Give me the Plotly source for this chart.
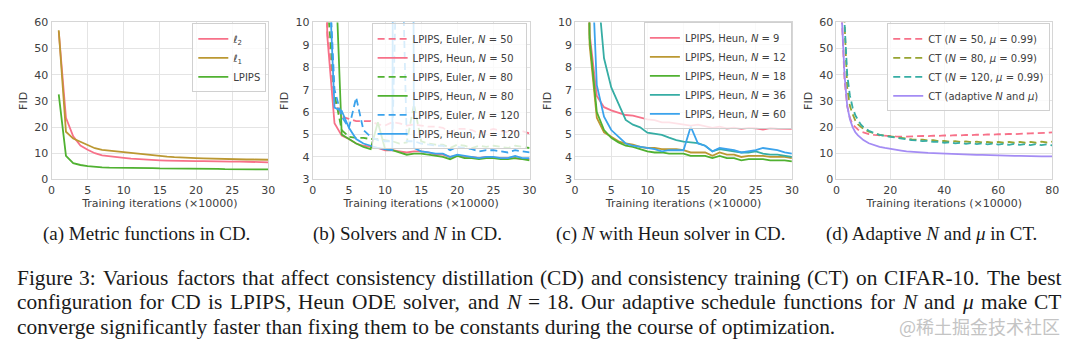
import plotly.graph_objects as go

W, H = 1080, 354

# ---------------- data ----------------
x_cd = list(range(1, 31))

# (a) metric functions
a_l2 = [56.5, 23.5, 16.5, 12.9, 11.3, 10.0, 9.2, 8.8, 8.5, 8.2, 7.9, 7.7, 7.6, 7.5, 7.3,
        7.2, 7.1, 7.1, 7.0, 7.0, 7.0, 6.9, 6.9, 6.8, 6.8, 6.8, 6.8, 6.7, 6.6, 6.5]
a_l1 = [57.0, 18.2, 15.6, 14.4, 13.1, 11.9, 11.3, 11.0, 10.7, 10.4, 10.2, 9.8, 9.4, 9.1, 8.9,
        8.7, 8.5, 8.3, 8.1, 8.1, 8.0, 7.9, 7.8, 7.8, 7.7, 7.7, 7.6, 7.6, 7.5, 7.5]
a_lpips = [32.5, 9.0, 6.2, 5.5, 5.1, 4.8, 4.6, 4.5, 4.5, 4.4, 4.4, 4.3, 4.3, 4.3, 4.2,
           4.2, 4.2, 4.1, 4.1, 4.1, 4.0, 4.0, 4.0, 3.9, 3.9, 3.9, 3.9, 3.9, 3.8, 3.8]

# (b) solvers and N
b_euler50 = [40, 9.6, 6.5, 5.8, 5.7, 5.6, 5.6, 5.6, 5.45, 5.4, 5.55, 5.5, 5.4, 5.45, 5.4,
             5.35, 5.35, 5.3, 5.1, 5.25, 5.25, 5.2, 5.05, 5.15, 5.25, 5.15, 5.1, 5.15, 5.15, 5.05]
b_heun50 = [40, 9.4, 5.5, 4.95, 4.8, 4.6, 4.5, 4.45, 4.4, 4.3, 4.3, 4.25, 4.2, 4.25, 4.25,
            4.2, 4.1, 4.1, 4.0, 4.05, 4.0, 4.0, 3.95, 4.0, 3.95, 3.95, 3.95, 3.95, 3.9, 3.9]
b_euler80 = [40, 11.0, 6.8, 5.2, 4.9, 4.85, 4.85, 4.8, 4.8, 4.75, 4.7, 4.6, 4.65, 6.35, 4.7,
             4.6, 4.55, 4.55, 4.4, 4.55, 4.5, 4.4, 4.5, 4.45, 4.5, 4.45, 4.4, 4.5, 4.45, 4.4]
b_heun80 = [40, 10.3, 13.5, 5.0, 4.8, 4.6, 4.45, 4.35, 5.55, 4.35, 4.3, 4.2, 4.1, 4.15, 4.15,
            4.1, 4.05, 4.0, 3.9, 4.05, 3.95, 3.95, 3.9, 3.95, 3.95, 3.9, 3.9, 3.95, 3.9, 3.85]
b_euler120 = [40, 14.0, 7.0, 5.8, 5.3, 6.65, 5.2, 4.9, 4.75, 4.7, 4.7, 18.0, 4.7, 4.7, 4.6,
              4.55, 4.5, 4.5, 4.3, 4.45, 4.4, 4.35, 4.25, 4.3, 4.3, 4.25, 4.2, 4.3, 4.25, 4.2]
b_heun120 = [40, 14.0, 6.2, 6.05, 5.3, 4.8, 4.6, 4.5, 4.4, 4.35, 4.3, 100, 100, 4.4, 4.25,
             4.2, 4.15, 4.15, 4.0, 4.1, 4.05, 4.0, 3.95, 4.0, 4.0, 3.95, 3.95, 4.05, 3.95, 3.95]

# (c) N with Heun solver
c_n9 = [40, 9.5, 6.72, 6.22, 6.08, 5.97, 5.87, 5.84, 5.75, 5.68, 5.64, 5.54, 5.54, 5.5, 5.44,
        5.4, 5.44, 5.37, 5.3, 5.35, 5.27, 5.31, 5.25, 5.3, 5.28, 5.22, 5.29, 5.26, 5.25, 5.25]
c_n12 = [40, 9.0, 5.75, 5.1, 4.9, 4.7, 4.6, 4.55, 4.45, 4.4, 4.4, 4.35, 4.35, 4.35, 4.3,
         4.2, 4.2, 4.2, 4.05, 4.2, 4.1, 4.1, 4.0, 4.05, 4.05, 4.05, 4.0, 4.0, 4.0, 3.95]
c_n18 = [40, 9.3, 6.0, 5.2, 4.85, 4.65, 4.5, 4.45, 4.35, 4.25, 4.2, 4.2, 4.15, 4.15, 4.15,
         4.05, 4.05, 4.05, 3.95, 4.05, 3.95, 3.95, 3.85, 3.9, 3.9, 3.9, 3.85, 3.85, 3.85, 3.8]
c_n36 = [40, 30, 12.0, 8.4, 7.1, 6.4, 5.65, 5.44, 5.32, 5.08, 5.04, 4.98, 4.86, 4.75, 4.68,
         4.64, 4.62, 4.5, 4.25, 4.35, 4.3, 4.25, 4.2, 4.2, 4.25, 4.15, 4.1, 4.1, 4.05, 4.0]
c_n60 = [40, 15.0, 7.2, 5.8, 5.2, 4.9, 4.6, 4.5, 4.45, 4.4, 4.35, 4.25, 4.3, 4.3, 4.3,
         5.35, 4.6, 4.5, 4.25, 4.4, 4.35, 4.3, 4.2, 4.25, 4.3, 4.4, 4.35, 4.3, 4.2, 4.15]

# (d) adaptive N and mu in CT
x_ct = [2, 3, 4, 5, 6, 7, 8, 9, 10, 12, 14, 16, 18, 20, 22, 24, 26, 28, 30, 32, 34, 36, 38,
        40, 42, 44, 46, 48, 50, 52, 54, 56, 58, 60, 62, 64, 66, 68, 70, 72, 74, 76, 78, 80]
d_n50 = [62, 38, 28, 23.5, 21, 19.8, 19, 18.3, 18, 17.3, 17, 16.8, 16.7, 16.5, 16.4, 16.3,
         16.4, 16.5, 16.4, 16.6, 16.5, 16.7, 16.6, 16.8, 16.7, 16.9, 16.8, 17.0, 16.9, 17.1,
         17.0, 17.2, 17.1, 17.3, 17.2, 17.4, 17.3, 17.5, 17.5, 17.6, 17.6, 17.8, 17.8, 18.0]
d_n80 = [75, 60, 35, 28, 25, 22.5, 21, 20, 19.3, 18.2, 17.5, 17, 16.7, 16.4, 16.0, 15.8,
         15.6, 15.3, 15.2, 15.2, 14.9, 15.0, 14.6, 14.7, 14.4, 14.6, 14.3, 14.5, 14.2, 14.4,
         14.1, 14.3, 14.0, 14.3, 14.0, 14.3, 14.0, 14.3, 14.0, 14.3, 14.0, 14.4, 14.1, 14.4]
d_n120 = [80, 62, 40, 32, 27.5, 24.5, 22.5, 21, 20, 18.6, 17.7, 17, 16.6, 16.3, 15.8, 15.6,
          15.3, 15.0, 14.9, 14.6, 14.7, 14.3, 14.4, 14.0, 14.2, 13.8, 14.0, 13.6, 13.9, 13.5,
          13.8, 13.4, 13.7, 13.3, 13.6, 13.2, 13.6, 13.2, 13.5, 13.1, 13.5, 13.1, 13.4, 13.0]
d_adapt = [62, 40, 28, 23, 20, 18, 16.8, 15.8, 15.0, 13.8, 13.0, 12.4, 12.0, 11.6, 11.3, 11.0,
           10.7, 10.5, 10.3, 10.2, 10.1, 10.0, 9.9, 9.8, 9.8, 9.7, 9.6, 9.6, 9.5, 9.4,
           9.4, 9.3, 9.3, 9.2, 9.1, 9.1, 9.0, 9.0, 8.9, 8.9, 8.9, 8.8, 8.8, 8.8]

x_ticks_cd = [0, 5, 10, 15, 20, 25, 30]
x_ticks_ct = [0, 20, 40, 60, 80]
y_ticks_big = [0, 10, 20, 30, 40, 50, 60]
y_ticks_small = [3, 4, 5, 6, 7, 8, 9, 10]

subcaptions = ["(a) Metric functions in CD.",
               "(b) Solvers and <i>N</i> in CD.",
               "(c) <i>N</i> with Heun solver in CD.",
               "(d) Adaptive <i>N</i> and <i>μ</i> in CT."]

caption_line1 = "Figure 3: Various factors that affect consistency distillation (CD) and consistency training (CT) on CIFAR-10. The best"
caption_line2 = "configuration for CD is LPIPS, Heun ODE solver, and <i>N</i> = 18. Our adaptive schedule functions for <i>N</i> and <i>μ</i> make CT"
caption_line3 = "converge significantly faster than fixing them to be constants during the course of optimization."
watermark = "@稀土掘金技术社区"

# ---------------- style ----------------
PINK, GOLD, GREEN, TEAL, BLUE = "#f77189", "#bb9832", "#50b131", "#36ada4", "#3ba3ec"
OLIVE, TEAL4, PURPLE = "#97a431", "#36ada4", "#a48cf4"
DASH = "7px,4px"
LW = 1.8
FONT = "DejaVu Sans"
TXT = "#404040"
GRID = "#e4e4e4"
FRAME = "#d6d6d6"

fig = go.Figure()

def add(x, y, name, color, ax, legend, dash="solid"):
    fig.add_trace(go.Scatter(
        x=x, y=y, name=name, mode="lines",
        line=dict(color=color, width=LW, dash=dash),
        xaxis="x" + ("" if ax == 1 else str(ax)),
        yaxis="y" + ("" if ax == 1 else str(ax)),
        legend="legend" + ("" if legend == 1 else str(legend)),
    ))

add(x_cd, a_l2, "<i>ℓ</i><sub>2</sub>", PINK, 1, 1)
add(x_cd, a_l1, "<i>ℓ</i><sub>1</sub>", GOLD, 1, 1)
add(x_cd, a_lpips, "LPIPS", GREEN, 1, 1)

add(x_cd, b_euler50, "LPIPS, Euler, <i>N</i> = 50", PINK, 2, 2, DASH)
add(x_cd, b_heun50, "LPIPS, Heun, <i>N</i> = 50", PINK, 2, 2)
add(x_cd, b_euler80, "LPIPS, Euler, <i>N</i> = 80", GREEN, 2, 2, DASH)
add(x_cd, b_heun80, "LPIPS, Heun, <i>N</i> = 80", GREEN, 2, 2)
add(x_cd, b_euler120, "LPIPS, Euler, <i>N</i> = 120", BLUE, 2, 2, DASH)
add(x_cd, b_heun120, "LPIPS, Heun, <i>N</i> = 120", BLUE, 2, 2)

add(x_cd, c_n9, "LPIPS, Heun, <i>N</i> = 9", PINK, 3, 3)
add(x_cd, c_n12, "LPIPS, Heun, <i>N</i> = 12", GOLD, 3, 3)
add(x_cd, c_n18, "LPIPS, Heun, <i>N</i> = 18", GREEN, 3, 3)
add(x_cd, c_n36, "LPIPS, Heun, <i>N</i> = 36", TEAL, 3, 3)
add(x_cd, c_n60, "LPIPS, Heun, <i>N</i> = 60", BLUE, 3, 3)

add(x_ct, d_n50, "CT (<i>N</i> = 50, <i>μ</i> = 0.99)", PINK, 4, 4, DASH)
add(x_ct, d_n80, "CT (<i>N</i> = 80, <i>μ</i> = 0.99)", OLIVE, 4, 4, DASH)
add(x_ct, d_n120, "CT (<i>N</i> = 120, <i>μ</i> = 0.99)", TEAL4, 4, 4, DASH)
add(x_ct, d_adapt, "CT (adaptive <i>N</i> and <i>μ</i>)", PURPLE, 4, 4)

# panel geometry in pixels: (left, right)
panels = [(48, 267), (312, 531), (577, 796), (841, 1059)]
top_px, bot_px = 17, 180
xranges = [[0, 30], [0, 30], [0, 30], [0, 80]]
yranges = [[0, 60], [3, 10], [3, 10], [0, 60]]
xt = [x_ticks_cd, x_ticks_cd, x_ticks_cd, x_ticks_ct]
yt = [y_ticks_big, y_ticks_small, y_ticks_small, y_ticks_big]

layout = dict(
    width=W, height=H, margin=dict(l=0, r=0, t=0, b=0),
    paper_bgcolor="white", plot_bgcolor="white",
    font=dict(family=FONT, size=11, color=TXT),
)
tickfont = dict(family=FONT, size=11, color=TXT)
for i, (l, r) in enumerate(panels):
    k = "" if i == 0 else str(i + 1)
    layout["xaxis" + k] = dict(
        domain=[l / W, r / W], range=xranges[i], tickvals=xt[i],
        anchor="y" + k, showgrid=True, gridcolor=GRID, gridwidth=1,
        showline=True, linecolor=FRAME, linewidth=1, mirror=True,
        zeroline=False, ticks="", tickfont=tickfont,
        title=dict(text="Training iterations (×10000)", font=dict(family=FONT, size=11, color=TXT), standoff=1),
    )
    layout["yaxis" + k] = dict(
        domain=[1 - bot_px / H, 1 - top_px / H], range=yranges[i], tickvals=yt[i],
        anchor="x" + k, showgrid=True, gridcolor=GRID, gridwidth=1,
        showline=True, linecolor=FRAME, linewidth=1, mirror=True,
        zeroline=False, ticks="", tickfont=tickfont,
        title=dict(text="FID", font=dict(family=FONT, size=11, color=TXT), standoff=4),
    )

# legends (right edge px, top px)
leg_pos = [(265, 18), (528, 18), (796, 17), (1057, 18)]
for i, (rx, ty) in enumerate(leg_pos):
    k = "legend" + ("" if i == 0 else str(i + 1))
    layout[k] = dict(
        x=rx / W, y=1 - ty / H, xanchor="right", yanchor="top",
        bgcolor="rgba(255,255,255,0.8)", bordercolor="#d0d0d0", borderwidth=1,
        font=dict(family=FONT, size=10, color=TXT), tracegroupgap=0,
    )
fig.update_layout(**layout)

# sub-captions
cap_cx = [144, 408, 674, 937]
for cx, txt in zip(cap_cx, subcaptions):
    fig.add_annotation(x=cx / W, y=1 - 237 / H, xref="paper", yref="paper",
                       text=txt, showarrow=False, xanchor="center", yanchor="middle",
                       borderpad=0, borderwidth=0,
                       font=dict(family="Liberation Serif", size=19, color="#1a1a1a"))

# ---- figure caption: justified lines (word widths from Times metrics) ----
FS = 21.4
SERIF = dict(family="Liberation Serif", size=FS, color="#1a1a1a")
TIMES = {" ": 250, "(": 333, ")": 333, ",": 250, "-": 333, ".": 250, ":": 278, "=": 564,
         "A": 722, "C": 667, "D": 722, "E": 611, "F": 556, "H": 722, "I": 333, "L": 611,
         "N": 722, "O": 722, "P": 556, "R": 667, "S": 556, "T": 611, "V": 722,
         "a": 444, "b": 500, "c": 444, "d": 500, "e": 444, "f": 333, "g": 500, "h": 500,
         "i": 278, "j": 278, "k": 500, "l": 278, "m": 778, "n": 500, "o": 500, "p": 500,
         "q": 500, "r": 333, "s": 389, "t": 278, "u": 500, "v": 500, "w": 722, "x": 500,
         "y": 500, "z": 444}
SPECIAL = {"<i>N</i>": 667, "<i>μ</i>": 520}

def word_w(tok):
    if tok in SPECIAL:
        return SPECIAL[tok] * FS / 1000
    return sum(TIMES.get(ch, 500) for ch in tok) * FS / 1000

LEFT, RIGHT = 13, 1068
for ypx, line in [(282, caption_line1), (307, caption_line2)]:
    words = line.split(" ")
    widths = [word_w(w) for w in words]
    gap = (RIGHT - LEFT - sum(widths)) / (len(words) - 1)
    xpos = LEFT
    for w, wd in zip(words, widths):
        fig.add_annotation(x=xpos / W, y=1 - ypx / H, xref="paper", yref="paper", text=w,
                           showarrow=False, xanchor="left", yanchor="middle",
                           borderpad=0, borderwidth=0, font=SERIF)
        xpos += wd + gap

fig.add_annotation(x=LEFT / W, y=1 - 333 / H, xref="paper", yref="paper", text=caption_line3,
                   showarrow=False, xanchor="left", yanchor="middle",
                   borderpad=0, borderwidth=0, font=SERIF)

fig.add_annotation(x=1067 / W, y=1 - 332 / H, xref="paper", yref="paper", text=watermark,
                   showarrow=False, xanchor="right", yanchor="middle",
                   borderpad=0, borderwidth=0,
                   font=dict(family="Noto Sans CJK SC", size=18, color="#c4c4c4"))

fig.write_html("out.html")
